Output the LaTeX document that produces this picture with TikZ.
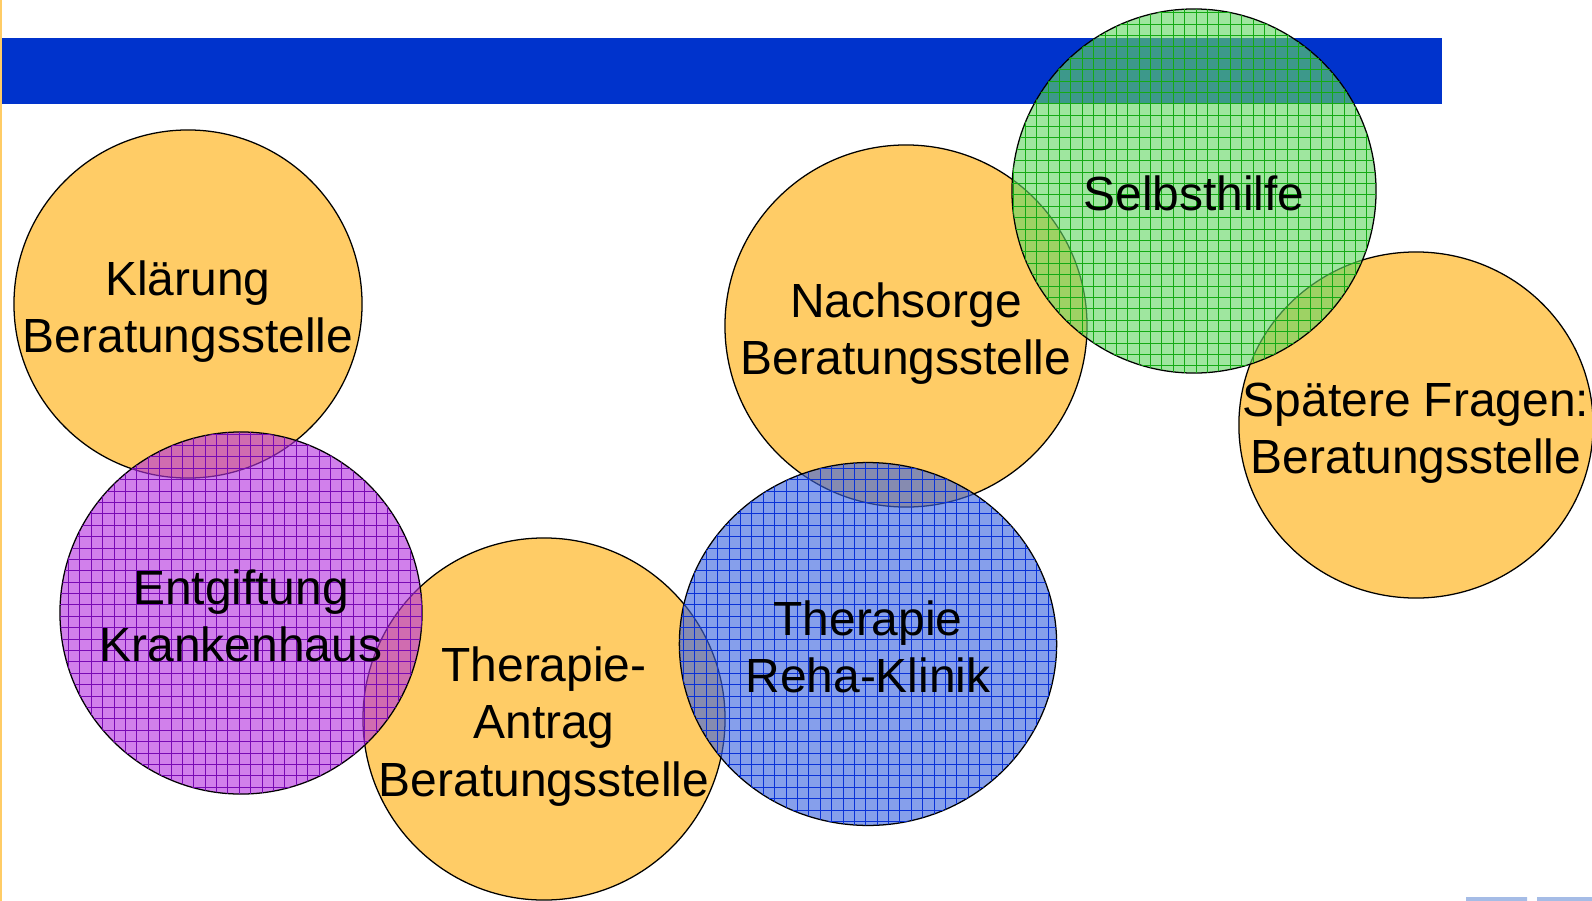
\documentclass[tikz,border=0pt]{standalone}
\usepackage{fontspec}
\setmainfont{Liberation Sans}
\usepackage{xcolor}
\usetikzlibrary{patterns.meta,shapes.geometric}

\definecolor{beratung}{RGB}{255,204,102}
\definecolor{banner}{RGB}{0,51,204}
\definecolor{entgiftfill}{RGB}{180,50,222}
\definecolor{entgiftline}{RGB}{120,10,180}
\definecolor{rehafill}{RGB}{60,100,222}
\definecolor{rehaline}{RGB}{10,50,215}
\definecolor{selbstfill}{RGB}{100,215,100}
\definecolor{selbstline}{RGB}{20,170,20}
\definecolor{logoblue}{RGB}{165,188,230}

% line struts so that every label sits like the slide text
\newcommand{\toproom}{\rule{0pt}{1.04em}}
\newcommand{\baseroom}{\rule[-.212em]{0pt}{.212em}}

\tikzdeclarepattern{
	name=cellgrid,
	type=uncolored,
	bottom left={(-.5pt,-.5pt)},
	top right={(8.1pt,8.1pt)},
	tile size={(8.1pt,8.1pt)},
	code={\draw[line width=.5pt] (0,0) -- (8.1pt,0) (0,0) -- (0,8.1pt);}
}

\begin{document}
\begin{tikzpicture} [x=0.025cm, y=-0.025cm,
		station/.style={circle, draw=black, line width=.9pt, inner sep=-1.2cm,
			minimum size=9.05cm, align=center, fill=beratung,
			font=\fontsize{34.1}{40.7}\selectfont},
		oval/.style 2 args={ellipse, minimum width=#1, minimum height=#2},
		hatched/.style 2 args={station, fill=#1, fill opacity=.62, text opacity=1,
			postaction={pattern=cellgrid, pattern color=#2}}]
		%----------------------------------------------------
		% Frame, banner and page edges
		%----------------------------------------------------
		\useasboundingbox (0,0) rectangle (1592,901);
		\fill[banner] (0,38) rectangle (1442,104);
		\draw[beratung, line width=.05cm] (1,0) -- (1,901);
		\fill[logoblue] (1466,897) rectangle (1527,901) (1537,897) rectangle (1592,901);

		%----------------------------------------------------
		% Beratungsstelle circles (opaque)
		%----------------------------------------------------
		\node[station, minimum size=8.7cm] (klaerung) at (188,304)
			{\toproom Klärung\\Beratungsstelle\baseroom};
		\node[station] (antrag) at (544,719)
			{\toproom Therapie-\\Antrag\\Beratungsstelle\baseroom};
		\node[station] (nachsorge) at (906,326)
			{\toproom Nachsorge\\Beratungsstelle\baseroom};
		\node[station, oval={8.85cm}{8.65cm}] (spaeter) at (1416,425)
			{\toproom Spätere Fragen:\\Beratungsstelle\baseroom};

		%----------------------------------------------------
		% Hatched circles (see-through)
		%----------------------------------------------------
		\node[hatched={entgiftfill}{entgiftline}] (entgiftung) at (241,613)
			{\toproom Entgiftung\\Krankenhaus\baseroom};
		\node[hatched={rehafill}{rehaline}, oval={9.43cm}{9.07cm}] (reha) at (868,644)
			{\toproom Therapie\\Reha-Klinik\baseroom};
		\node[hatched={selbstfill}{selbstline}, minimum size=9.1cm] (selbsthilfe) at (1194,191)
			{\toproom Selbsthilfe\baseroom};

	\end{tikzpicture}
\end{document}
